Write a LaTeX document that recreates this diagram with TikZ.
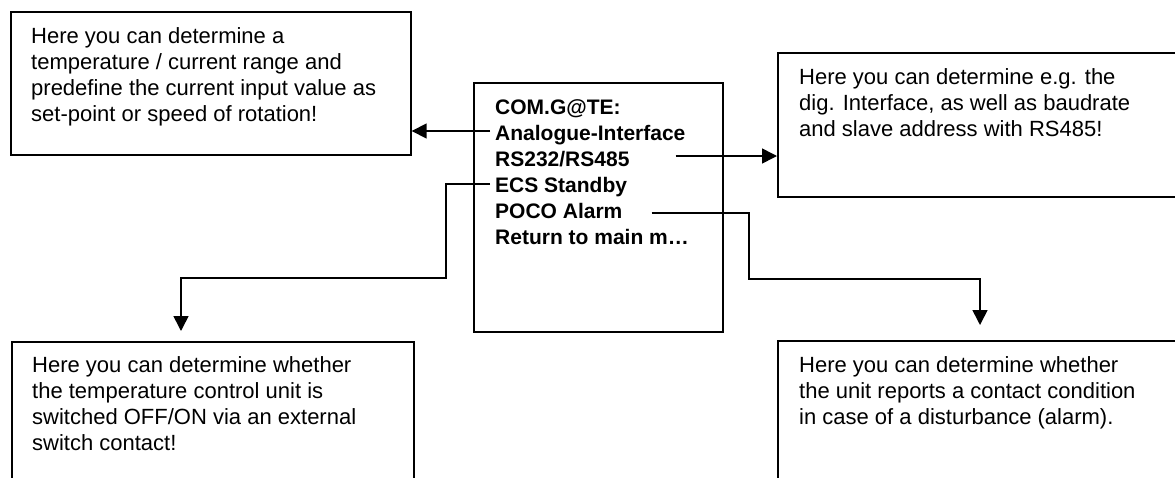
\documentclass[tikz,border=0pt]{standalone}
\usepackage{fontspec}
\setmainfont{Liberation Sans}
\usetikzlibrary{arrows.meta}
\begin{document}
\begin{tikzpicture}[x=1pt,y=-1pt,
  box/.style={draw, line width=1.7pt, inner sep=0pt, anchor=north west},
  txt/.style={anchor=base west, inner sep=0pt, font=\fontsize{22}{26}\selectfont},
  menu/.style={anchor=base west, inner sep=0pt, font=\fontsize{21}{26}\selectfont\bfseries},
  conn/.style={line width=1.6pt},
  arr/.style={conn, -{Triangle[length=15pt,width=15pt]}}]
\useasboundingbox (0,0) rectangle (1175,477);

% boxes
\node[box, minimum width=400pt, minimum height=143pt] (tl) at (10,11) {};
\node[box, minimum width=420pt, minimum height=144pt] (tr) at (777,52) {};
\node[box, minimum width=249pt, minimum height=249pt] (ctr) at (473,82) {};
\node[box, minimum width=402pt, minimum height=200pt] (bl) at (11,341) {};
\node[box, minimum width=420pt, minimum height=200pt] (br) at (777,340) {};

% texts
\node[txt] (tltxt) at (31,43.5) {\parbox[t]{380pt}{\raggedright Here you can determine a\\temperature / current range and\\predefine the current input value as\\set-point or speed of rotation!}};
\node[txt] (trtxt) at (799,84) {\parbox[t]{380pt}{\raggedright Here you can determine e.g. the\\dig. Interface, as well as baudrate\\and slave address with RS485!}};
\node[txt] (bltxt) at (32,372) {\parbox[t]{380pt}{\raggedright Here you can determine whether\\the temperature control unit is\\switched OFF/ON via an external\\switch contact!}};
\node[txt] (brtxt) at (799,372) {\parbox[t]{380pt}{\raggedright Here you can determine whether\\the unit reports a contact condition\\in case of a disturbance (alarm).}};

% menu lines
\node[menu] (m0) at (495,114) {COM.G@TE:};
\node[menu] (ana) at (495,140) {Analogue-Interface};
\node[menu] (rs) at (495,166) {RS232/RS485};
\node[menu] (ecs) at (495,192) {ECS Standby};
\node[menu] (poco) at (495,218) {POCO Alarm};
\node[menu] (ret) at (495,244) {Return to main m\dots};

% connector ends
\coordinate (anaOut) at ([xshift=-5pt,yshift=9pt]ana.base west);
\coordinate (rsOut) at ([xshift=46pt,yshift=10pt]rs.base east);
\coordinate (ecsOut) at ([xshift=-5pt,yshift=8pt]ecs.base west);
\coordinate (pocoOut) at ([xshift=29pt,yshift=5pt]poco.base east);
\coordinate (blIn) at ([xshift=170pt]bl.north west);
\coordinate (brIn) at ([xshift=203pt]br.north west);

% connectors
\draw[arr] (anaOut) -- (anaOut -| tl.east);
\draw[arr] (rsOut) -- (rsOut -| tr.west);
\draw[arr, shorten >=10pt] (ecsOut) -| (446,278) -| (blIn);
\draw[arr, shorten >=15pt] (pocoOut) -| (749,279) -| (brIn);
\end{tikzpicture}
\end{document}
